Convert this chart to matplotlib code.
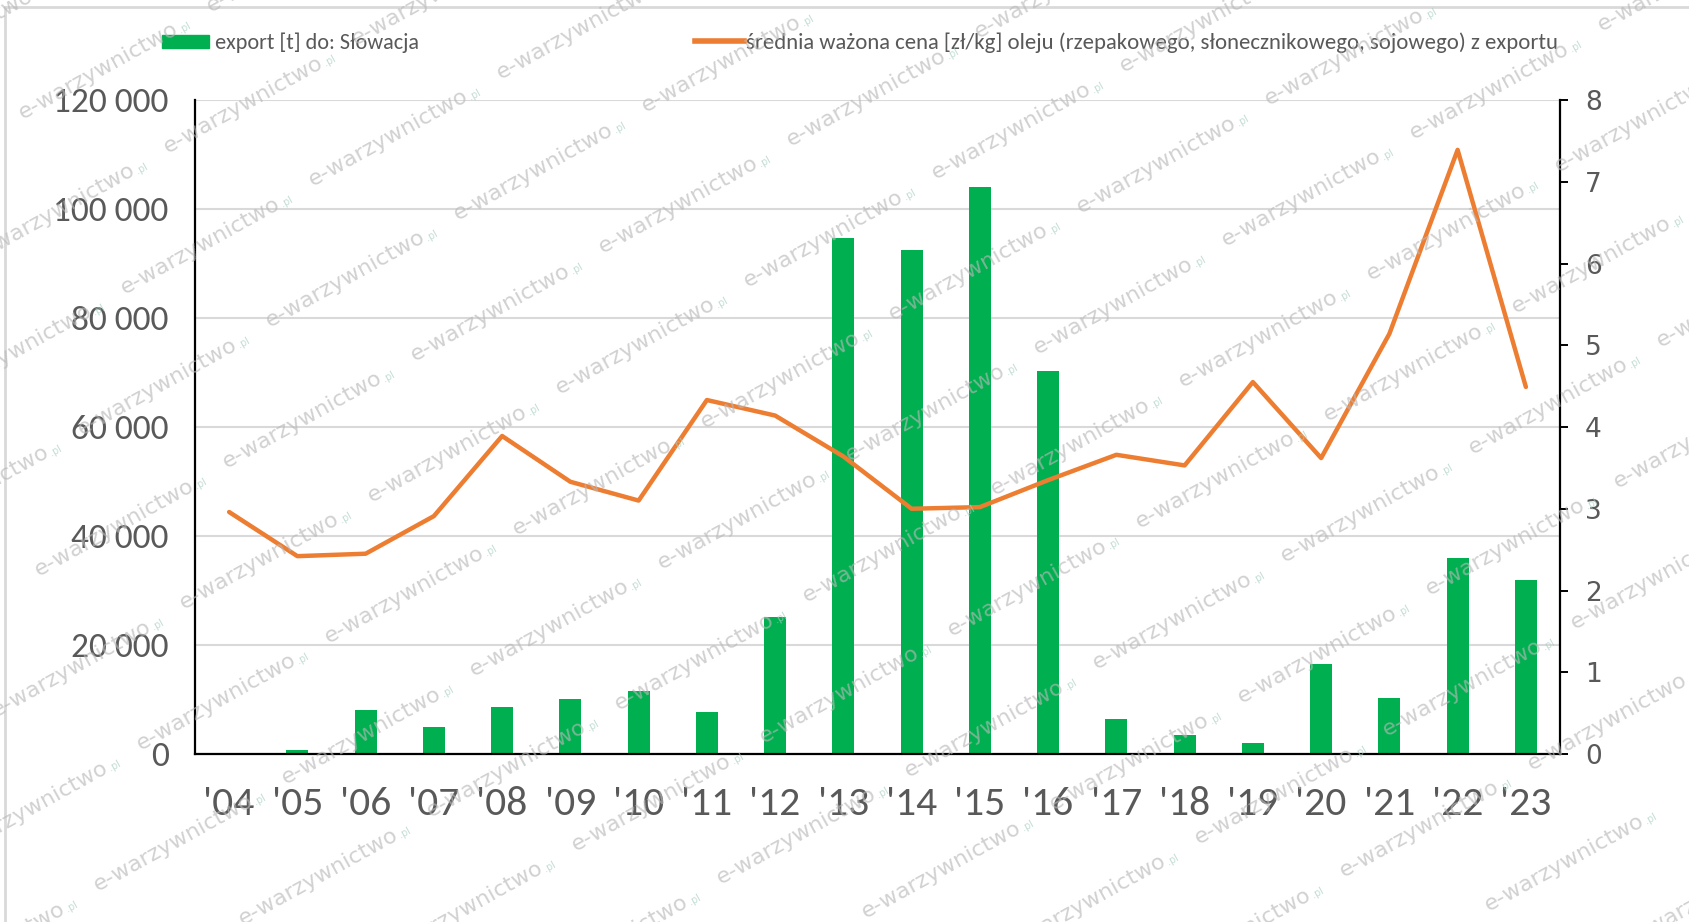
import numpy as np
import matplotlib.pyplot as plt
from matplotlib.lines import Line2D
from matplotlib.patches import Patch

years = ["'04", "'05", "'06", "'07", "'08", "'09", "'10", "'11", "'12", "'13",
         "'14", "'15", "'16", "'17", "'18", "'19", "'20", "'21", "'22", "'23"]
export_t = [0, 800, 8100, 4900, 8700, 10100, 11500, 7700, 25100, 94700,
            92500, 104000, 70200, 6500, 3400, 2000, 16600, 10300, 36000, 32000]
price = [2.96, 2.42, 2.45, 2.91, 3.89, 3.33, 3.10, 4.33, 4.14, 3.64,
         3.00, 3.02, 3.35, 3.66, 3.53, 4.55, 3.62, 5.14, 7.39, 4.49]
left_ticks = [0, 20000, 40000, 60000, 80000, 100000, 120000]
right_ticks = [0, 1, 2, 3, 4, 5, 6, 7, 8]

bar_label = "export [t] do: Słowacja"
line_label = "średnia ważona cena [zł/kg] oleju (rzepakowego, słonecznikowego, sojowego) z exportu"

narrow = ["Carlito", "DejaVu Sans"]
green = "#00B050"
orange = "#ED7D31"
grey_txt = "#595959"

W, H = 1690, 922
fig = plt.figure(figsize=(W / 100, H / 100), dpi=100)
fig.patch.set_facecolor("white")
ax = fig.add_axes([195 / W, 1 - 754 / H, (1560 - 195) / W, (754 - 100) / H])

x = np.arange(len(years))
ax.bar(x, export_t, width=0.32, color=green, zorder=2)
ax.set_xlim(-0.5, len(years) - 0.5)
ax.set_ylim(0, 120000)
ax.set_yticks(left_ticks)
ax.set_yticklabels([f"{v:,}".replace(",", " ") for v in left_ticks])
ax.set_xticks(x)
ax.set_xticklabels(years)
ax.yaxis.grid(True, color="#d9d9d9", lw=1.5)
ax.set_axisbelow(True)
ax.tick_params(axis="y", length=0, pad=19, labelsize=25.5, labelcolor=grey_txt)
ax.tick_params(axis="x", length=0, pad=23, labelsize=30, labelcolor=grey_txt)
for lab in ax.get_xticklabels() + ax.get_yticklabels():
    lab.set_fontfamily(narrow)
for s in ["top", "right"]:
    ax.spines[s].set_visible(False)
for s in ["left", "bottom"]:
    ax.spines[s].set_color("black")
    ax.spines[s].set_linewidth(1.6)

ax2 = ax.twinx()
ax2.plot(x, price, color=orange, lw=3.2, solid_capstyle="round", solid_joinstyle="round")
ax2.set_ylim(0, 8)
ax2.set_yticks(right_ticks)
ax2.tick_params(axis="y", direction="out", length=6, width=1.4, pad=12,
                labelsize=19, labelcolor=grey_txt)
for s in ["top", "left", "bottom"]:
    ax2.spines[s].set_visible(False)
ax2.spines["right"].set_color("black")
ax2.spines["right"].set_linewidth(1.6)

# legends
leg1 = fig.legend(handles=[Patch(color=green)], labels=[bar_label],
                  loc="center left", bbox_to_anchor=(162 / W, 1 - 43 / H),
                  frameon=False, handlelength=2.1, handleheight=0.55,
                  handletextpad=0.3, borderaxespad=0, borderpad=0,
                  prop={"family": narrow, "size": 16})
for t in leg1.get_texts():
    t.set_color(grey_txt)
leg2 = fig.legend(handles=[Line2D([], [], color=orange, lw=4)], labels=[line_label],
                  loc="center left", bbox_to_anchor=(695 / W, 1 - 43 / H),
                  frameon=False, handlelength=2.15, handletextpad=0.1,
                  borderaxespad=0, borderpad=0,
                  prop={"family": narrow, "size": 16.4})
for t in leg2.get_texts():
    t.set_color(grey_txt)

# outer frame (top and left edges)
fig.add_artist(Line2D([5 / W, 1], [1 - 7 / H, 1 - 7 / H], transform=fig.transFigure,
                      color="#d9d9d9", lw=2))
fig.add_artist(Line2D([5 / W, 5 / W], [1 - 7 / H, 0], transform=fig.transFigure,
                      color="#d9d9d9", lw=2))

# watermark lattice
ang = 29
ca, sa = np.cos(np.radians(ang)), np.sin(np.radians(ang))
for i in range(-12, 14):
    for j in range(-4, 8):
        px = 345 + 145 * i - 43 * j
        py = 279 + 33.5 * i + 141 * j
        if -60 < px < W + 60 and -40 < py < H + 40:
            fig.text(px / W, 1 - py / H, "e-warzywnictwo", rotation=ang,
                     ha="center", va="center", fontsize=16, color="#b8b8b8",
                     alpha=0.65, zorder=10)
            qx, qy = px + 90 * ca, py - 90 * sa
            fig.text(qx / W, 1 - qy / H, ".pl", rotation=ang, ha="left",
                     va="center", fontsize=7, color="#a8cfc0", alpha=0.7, zorder=10)

fig.savefig("out.png", dpi=100)
